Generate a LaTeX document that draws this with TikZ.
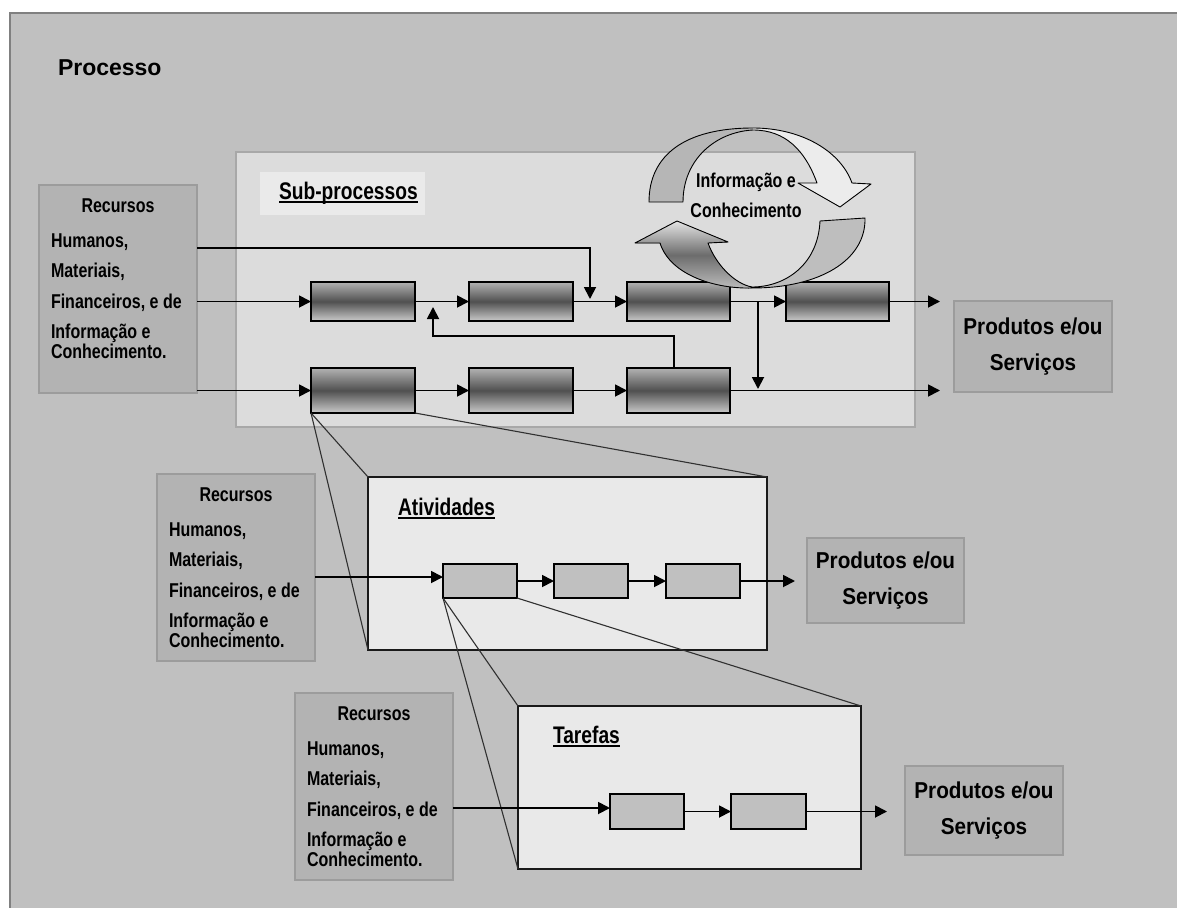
\documentclass[tikz,border=0pt]{standalone}
\usepackage{fontspec}
\setmainfont{Liberation Sans}
\newfontfamily\narrowsf[FakeStretch=0.8]{Liberation Sans}
\newfontfamily\prodsf[FakeStretch=0.9]{Liberation Sans}
\usetikzlibrary{arrows.meta}

\definecolor{pagebg}{HTML}{C0C0C0}
\definecolor{framec}{HTML}{808080}
\definecolor{subfill}{HTML}{DCDCDC}
\definecolor{subedge}{HTML}{A8A8A8}
\definecolor{lblfill}{HTML}{EAEAEA}
\definecolor{resfill}{HTML}{B3B3B3}
\definecolor{resedge}{HTML}{9C9C9C}
\definecolor{zoomfill}{HTML}{E9E9E9}
\definecolor{stepfill}{HTML}{C0C0C0}
\definecolor{gtop}{HTML}{B2B2B2}
\definecolor{gmid}{HTML}{505050}
\definecolor{gbot}{HTML}{CACACA}
\definecolor{cycgray}{HTML}{B6B6B6}
\definecolor{cyclight}{HTML}{ECECEC}
\definecolor{cycmid}{HTML}{BEBEBE}
\definecolor{cycdark}{HTML}{6C6C6C}
\definecolor{cycpale}{HTML}{E4E4E4}
\definecolor{zline}{HTML}{303030}

% box given by its two corners: name, style, x1, y1, x2, y2, text
\newcommand\boxat[7]{%
  \node[#2, minimum width={(#5)-(#3)}, minimum height={(#6)-(#4)}]
    (#1) at ({((#3)+(#5))/2},{((#4)+(#6))/2}) {#7};}

% resource box: name, left x, top y, height
\newcommand\recbox[4]{%
  \node[resbox, minimum width=158pt, minimum height=#4 pt, anchor=north west] (#1) at (#2,#3) {};
  \node[rtxt, anchor=base] (#1-l0) at (#2+79,#3+27) {Recursos};
  \node[rtxt, anchor=base west] (#1-l1) at (#2+12,#3+62) {Humanos,};
  \node[rtxt, anchor=base west] (#1-l2) at (#2+12,#3+92) {Materiais,};
  \node[rtxt, anchor=base west] (#1-l3) at (#2+12,#3+123) {Financeiros, e de};
  \node[rtxt, anchor=base west] (#1-l4) at (#2+12,#3+153) {Informação e};
  \node[rtxt, anchor=base west] (#1-l5) at (#2+12,#3+173) {Conhecimento.};}

\begin{document}
\begin{tikzpicture}[x=1pt,y=-1pt,
  every node/.style={inner sep=0pt, outer sep=0pt},
  frame/.style={fill=pagebg, draw=framec, line width=1.5pt},
  subbox/.style={draw=subedge, fill=subfill, line width=1.5pt},
  sublbl/.style={fill=lblfill},
  resbox/.style={draw=resedge, fill=resfill, line width=1.5pt},
  prodbox/.style={draw=resedge, fill=resfill, line width=1.5pt,
    align=center, font=\prodsf\bfseries\fontsize{23}{36}\selectfont},
  gbox/.style={draw=black, line width=1.5pt, top color=gtop, bottom color=gbot, middle color=gmid},
  zoombox/.style={draw=black!90, fill=zoomfill, line width=1.6pt},
  stepbox/.style={draw=black, fill=stepfill, line width=1.6pt},
  rtxt/.style={font=\narrowsf\bfseries\fontsize{20}{24}\selectfont},
  ttl/.style={font=\narrowsf\bfseries\fontsize{24}{28}\selectfont},
  uline/.style={line width=1.6pt},
  arr/.style={line width=1.8pt, -{Triangle[length=12pt,width=12pt]}},
  zoomln/.style={draw=zline, line width=1.1pt},
  cycedge/.style={draw=black, line width=0.9pt, line join=round}]

\useasboundingbox (0,0) rectangle (1177,907);
\fill[white] (0,0) rectangle (1177,907);
\draw[frame] (10,13) rectangle (1190,920);

\node[font=\bfseries\fontsize{23}{28}\selectfont, anchor=base west] (proc) at (58,75) {Processo};

% sub-process level
\boxat{sub}{subbox}{236}{152}{915}{427}{}
\boxat{subl}{sublbl}{260}{172}{425}{215}{}
\node[ttl, anchor=base west] (subt) at (279,199) {Sub-processos};
\draw[uline] ([yshift=-3pt]subt.base west) -- ([yshift=-3pt]subt.base east);

\recbox{r1}{39}{185}{208}
\recbox{r2}{157}{474}{187}
\recbox{r3}{295}{693}{187}

\boxat{s11}{gbox}{311}{282}{415}{321}{}
\boxat{s12}{gbox}{469}{282}{573}{321}{}
\boxat{s13}{gbox}{627}{282}{730}{321}{}
\boxat{s14}{gbox}{786}{282}{889}{321}{}
\boxat{s21}{gbox}{311}{368}{415}{413}{}
\boxat{s22}{gbox}{469}{368}{573}{413}{}
\boxat{s23}{gbox}{627}{368}{730}{413}{}

\boxat{p1}{prodbox}{954}{301}{1112}{392}{Produtos e/ou\\Serviços}
\boxat{p2}{prodbox}{807}{538}{964}{623}{Produtos e/ou\\Serviços}
\boxat{p3}{prodbox}{905}{766}{1063}{855}{Produtos e/ou\\Serviços}

% activity level
\boxat{act}{zoombox}{368}{477}{767}{650}{}
\node[ttl, anchor=base west] (actt) at (398,515) {Atividades};
\draw[uline] ([yshift=-3pt]actt.base west) -- ([yshift=-3pt]actt.base east);

% task level
\boxat{tar}{zoombox}{518}{706}{861}{869}{}
\node[ttl, anchor=base west] (tart) at (553,743) {Tarefas};
\draw[uline] ([yshift=-3pt]tart.base west) -- ([yshift=-3pt]tart.base east);

% zoom guide lines
\draw[zoomln] (s21.south west) -- (act.north west);
\draw[zoomln] (s21.south west) -- (act.south west);
\draw[zoomln] (s21.south east) -- (act.north east);

\boxat{a1}{stepbox}{443}{564}{517}{598}{}
\boxat{a2}{stepbox}{554}{564}{628}{598}{}
\boxat{a3}{stepbox}{666}{564}{740}{598}{}

\draw[zoomln] (a1.south west) -- (tar.north west);
\draw[zoomln] (a1.south west) -- (tar.south west);
\draw[zoomln] (a1.south east) -- (tar.north east);

\boxat{t1}{stepbox}{610}{794}{684}{829}{}
\boxat{t2}{stepbox}{731}{794}{806}{829}{}

% connectors, sub-process level
\coordinate (j1) at (590,299);
\coordinate (j2) at (758,301.5);
\coordinate (j3) at (758,389);
\coordinate (fb) at (433,307);
\coordinate (o1) at (940,301.5);
\coordinate (o2) at (940,390.5);
\draw[arr] (r1.east |- s11.west) -- (s11.west);
\draw[arr] (r1.east |- s21.west) -- (s21.west);
\draw[arr] (r1.east |- 0,248) -| (j1);
\draw[arr] (s11) -- (s12);
\draw[arr] (s12) -- (s13);
\draw[arr] (s13) -- (s14);
\draw[arr] (s14) -- (o1);
\draw[arr] (s21) -- (s22);
\draw[arr] (s22) -- (s23);
\draw[arr] (s23) -- (o2);
\draw[arr] (j2) -- (j3);
\draw[arr] ([xshift=-4.5pt]s23.north) |- (fb |- 0,336) -- (fb);

% connectors, activity level
\coordinate (o3) at (795,581);
\draw[arr] (r2.east |- 0,577) -- (a1.west |- 0,577);
\draw[arr] (a1) -- (a2);
\draw[arr] (a2) -- (a3);
\draw[arr] (a3) -- (o3);

% connectors, task level
\coordinate (o4) at (887,811.5);
\draw[arr] (r3.east |- 0,808) -- (t1.west |- 0,808);
\draw[arr] (t1) -- (t2);
\draw[arr] (t2) -- (o4);

% information cycle: upper curved arrow
\fill[cycgray] (649,202) .. controls (649,155) and (685,128) .. (753,128)
  -- (753,130) .. controls (715,132) and (683,160) .. (683,202) -- cycle;
\fill[cyclight] (753,128) .. controls (800,128) and (840,150) .. (852,183)
  -- (871,184) -- (840,207) -- (798,183) -- (817,183)
  .. controls (805,150) and (785,130) .. (753,130) -- cycle;
\draw[cycedge] (649,202) .. controls (649,155) and (685,128) .. (753,128)
  .. controls (800,128) and (840,150) .. (852,183)
  -- (871,184) -- (840,207) -- (798,183) -- (817,183)
  .. controls (805,150) and (785,130) .. (753,130)
  .. controls (715,132) and (683,160) .. (683,202) -- cycle;

% information cycle: lower curved arrow
\fill[cycmid] (865,218) .. controls (866,260) and (820,288) .. (752,288)
  -- (752,287) .. controls (785,287) and (818,265) .. (820,221) -- cycle;
\fill[top color=cycpale, bottom color=cycmid, middle color=cycdark]
  (752,288) .. controls (715,289) and (670,275) .. (660,243)
  -- (635,243) -- (677,221) -- (728,242) -- (708,243)
  .. controls (716,265) and (735,284) .. (752,287) -- cycle;
\draw[cycedge] (865,218) .. controls (866,260) and (820,288) .. (752,288)
  .. controls (715,289) and (670,275) .. (660,243)
  -- (635,243) -- (677,221) -- (728,242) -- (708,243)
  .. controls (716,265) and (735,284) .. (752,287)
  .. controls (785,287) and (818,265) .. (820,221) -- cycle;

\node[rtxt, anchor=base] (ic1) at (746,187) {Informação e};
\node[rtxt, anchor=base] (ic2) at (746,217) {Conhecimento};

\end{tikzpicture}
\end{document}
